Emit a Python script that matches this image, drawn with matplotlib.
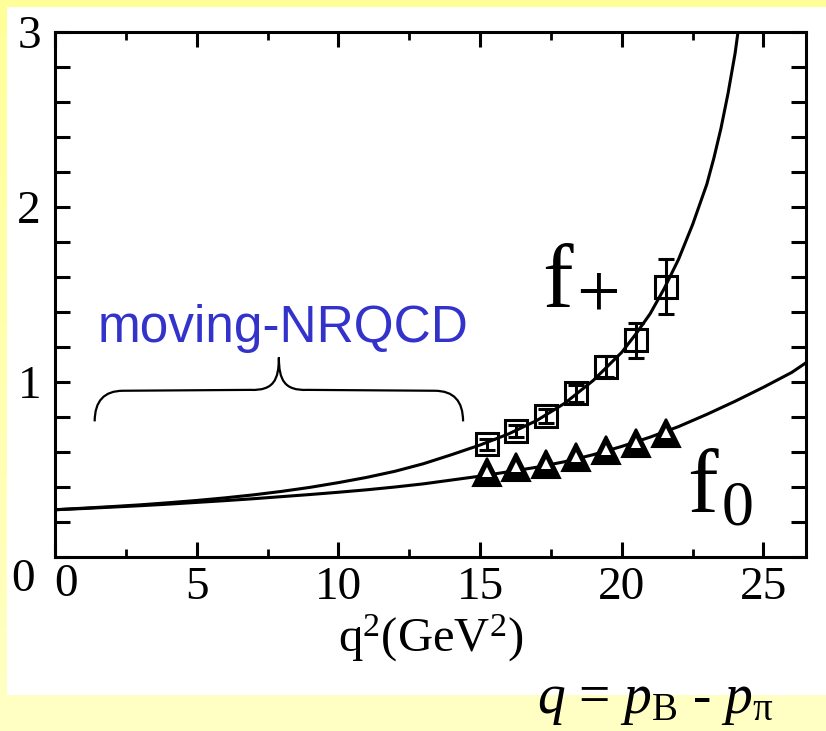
import numpy as np
import matplotlib
matplotlib.use("Agg")
import matplotlib.pyplot as plt
from matplotlib.path import Path
from matplotlib.patches import PathPatch, Rectangle
from matplotlib.ticker import MultipleLocator

plt.rcParams['mathtext.fontset'] = 'custom'
plt.rcParams['mathtext.rm'] = 'Liberation Serif'
plt.rcParams['mathtext.it'] = 'Liberation Serif:italic'
plt.rcParams['font.family'] = ['Liberation Serif', 'DejaVu Serif']

# lattice points, f+ (squares) and f0 (triangles)
q2_pts = [15.24, 16.27, 17.34, 18.38, 19.44, 20.50, 21.56]
fplus_pts = [0.644, 0.720, 0.807, 0.935, 1.087, 1.240, 1.545]
fplus_err = [0.03, 0.035, 0.04, 0.05, 0.06, 0.10, 0.157]
fzero_pts = [0.487, 0.516, 0.531, 0.570, 0.611, 0.650, 0.710]

# fitted curves
q2_fplus = [0, 1, 2, 3, 4, 5, 6, 7, 8, 9, 10, 11, 12, 13, 14, 15, 16, 17, 18, 19, 20,
            20.5, 21, 21.5, 22, 22.5, 23, 23.25, 23.5, 23.75, 24.0, 24.1]
fplus_curve = [0.27, 0.279, 0.288, 0.298, 0.31, 0.323, 0.338, 0.355, 0.375, 0.398, 0.425,
               0.455, 0.49, 0.533, 0.585, 0.640, 0.703, 0.780, 0.88, 1.01, 1.17,
               1.275, 1.39, 1.535, 1.70, 1.90, 2.13, 2.28, 2.45, 2.65, 2.88, 3.0]
q2_fzero = [0, 1, 2, 3, 4, 5, 6, 7, 8, 9, 10, 11, 12, 13, 14, 15, 16, 17, 18, 19, 20,
            21, 22, 23, 24, 25, 26, 26.5]
fzero_curve = [0.27, 0.277, 0.285, 0.293, 0.302, 0.312, 0.322, 0.333, 0.345, 0.357, 0.37,
               0.384, 0.40, 0.418, 0.44, 0.462, 0.487, 0.513, 0.545, 0.585, 0.632,
               0.685, 0.745, 0.815, 0.89, 0.97, 1.055, 1.11]

# brace over the moving-NRQCD range
brace_x0, brace_x1, brace_tip = 1.4, 14.4, 7.9
brace_yend, brace_ymid, brace_ytip = 0.775, 0.95, 1.14

fig = plt.figure(figsize=(8.26, 7.31), dpi=100, facecolor='#FFFFC4')

# backdrop: white slide area with yellow border strips
bg = fig.add_axes([0, 0, 1, 1], zorder=-10)
bg.axis('off')
grad = np.linspace(0, 1, 100).reshape(-1, 1)
cmap = matplotlib.colors.LinearSegmentedColormap.from_list('y', ['#FFFF99', '#FFFFC4'])
bg.imshow(grad, cmap=cmap, extent=[0, 7, 731, 0], aspect='auto')
bg.add_patch(Rectangle((0, 0), 826, 7, color='#FFFF99', lw=0))
bg.add_patch(Rectangle((7, 7), 819, 688, color='white', lw=0))
bg.set_xlim(0, 826)
bg.set_ylim(731, 0)

ax = fig.add_axes([55 / 826, 1 - 557 / 731, 751 / 826, 525 / 731])
ax.patch.set_alpha(0)

ax.plot(q2_fplus, fplus_curve, color='black', lw=2.2, zorder=2)
ax.plot(q2_fzero, fzero_curve, color='black', lw=2.2, zorder=2)

ax.errorbar(q2_pts, fplus_pts, yerr=fplus_err, fmt='s', ms=16, mfc='none', mec='black',
            mew=2.2, ecolor='black', elinewidth=2.2, capsize=6, capthick=2.2, zorder=3)
ax.plot(q2_pts, fzero_pts, '^', ms=20, mfc='black', mec='black', mew=1.5, zorder=3)
ax.plot(q2_pts, fzero_pts, '^', ms=7, mfc='white', mec='white', mew=0, zorder=4)

ax.set_xlim(0, 26.5)
ax.set_ylim(0, 3)

for s in ax.spines.values():
    s.set_linewidth(2.2)

ax.xaxis.set_major_locator(MultipleLocator(5))
ax.xaxis.set_minor_locator(MultipleLocator(2.5))
ax.yaxis.set_major_locator(MultipleLocator(1))
ax.yaxis.set_minor_locator(MultipleLocator(0.2))
ax.tick_params(which='both', direction='in', top=True, right=True, labelsize=34)
ax.tick_params(which='major', length=11, width=2.2)
ax.tick_params(axis='x', which='minor', length=6, width=2)
ax.tick_params(axis='y', which='minor', length=11, width=2.2)
ax.tick_params(axis='x', which='major', pad=7)
ax.tick_params(axis='y', which='major', pad=10)
ax.set_yticks([0, 1, 2, 3])
ax.set_yticklabels(['', '1', '2', '3'])
ax.set_xticks([0, 5, 10, 15, 20, 25])
ax.set_xticklabels(['', '5', '10', '15', '20', '25'])
ax.text(-0.7, -0.13, '0', fontsize=34, ha='right', va='center', clip_on=False)
ax.text(0.4, -0.04, '0', fontsize=34, ha='center', va='top', clip_on=False)

ax.set_xlabel(r'$\mathrm{q}^{2}\mathrm{(GeV}^{2}\mathrm{)}$', fontsize=35, labelpad=2)

# curve labels
ax.text(17.2, 1.43, 'f', fontsize=66, ha='left', va='baseline')
ax.text(19.17, 1.48, '+', fontsize=56, ha='center', va='center')
ax.text(22.3, 0.257, 'f', fontsize=66, ha='left', va='baseline')
ax.text(24.1, 0.27, '0', fontsize=46, ha='center', va='center')

ax.text(1.52, 1.229, 'moving-NRQCD', fontsize=37, color='#3333CC', ha='left',
        va='baseline', family='Liberation Sans')

verts = [
    (brace_x0, brace_yend),
    (brace_x0, brace_ymid), (brace_x0 + 1.0, brace_ymid),
    (brace_tip - 1.0, brace_ymid + 0.005),
    (brace_tip - 0.2, brace_ymid), (brace_tip, brace_ymid + 0.06), (brace_tip, brace_ytip),
    (brace_tip, brace_ymid + 0.06), (brace_tip + 0.2, brace_ymid), (brace_tip + 1.0, brace_ymid + 0.005),
    (brace_x1 - 1.0, brace_ymid),
    (brace_x1, brace_ymid), (brace_x1, brace_yend),
]
codes = [Path.MOVETO, Path.CURVE3, Path.CURVE3, Path.LINETO,
         Path.CURVE4, Path.CURVE4, Path.CURVE4,
         Path.CURVE4, Path.CURVE4, Path.CURVE4,
         Path.LINETO, Path.CURVE3, Path.CURVE3]
ax.add_patch(PathPatch(Path(verts, codes), fill=False, lw=1.6, color='black'))

fig.text(537 / 826, 0.024, r'$q$ = $p_{\mathrm{B}}$ - $p_{\mathrm{π}}$', fontsize=40,
         ha='left', va='baseline')

fig.savefig('out.png', dpi=100, facecolor=fig.get_facecolor())
